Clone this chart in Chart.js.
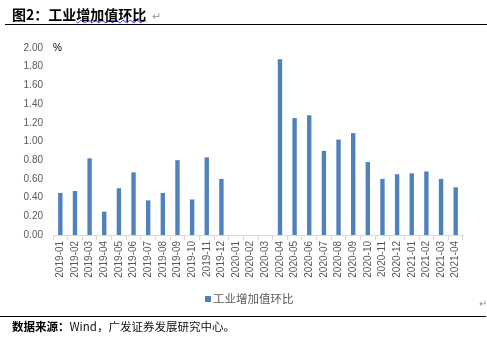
<!DOCTYPE html>
<html>
<head>
<meta charset="utf-8">
<script src="https://cdn.jsdelivr.net/npm/chart.js@4"></script>
<style>
  html, body { margin: 0; padding: 0; background: #fff; }
  #wrap { position: relative; width: 487px; height: 342px; overflow: hidden; font-family: "Noto Sans CJK SC", "Liberation Sans", sans-serif; }
  #chartBox { position: absolute; left: 0; top: 0; width: 487px; height: 342px; }
  .title { position: absolute; left: 12px; top: 4px; font-size: 14px; font-weight: bold; color: #000; line-height: 20px; white-space: nowrap; }
  .title .wavy { text-decoration: underline wavy #3030ff; text-decoration-thickness: 1px; text-underline-offset: -1px; }
  .mark { color: #a0a0a0; font-weight: normal; font-size: 11px; margin-left: 6px; }
  .rule { position: absolute; height: 0; border-top: 1.5px solid #000; }
  .unit { position: absolute; left: 53px; top: 42px; font-family: "Liberation Sans", sans-serif; font-size: 10px; color: #000; }
  .legend { position: absolute; left: 205px; top: 290px; font-size: 11.5px; color: #595959; line-height: 16px; white-space: nowrap; }
  .legend i { display: inline-block; width: 6px; height: 6px; background: #4F81BD; margin-right: 2px; vertical-align: 1px; }
  .source { position: absolute; left: 12px; top: 318px; font-size: 11.5px; color: #111; line-height: 17px; white-space: nowrap; }
  .source b { color: #000; }
  .pmark { position: absolute; left: 479px; top: 295px; font-size: 10px; color: #909090; }
</style>
</head>
<body>
<div id="wrap">
  <div id="chartBox"><canvas id="ipChart" width="487" height="342"></canvas></div>
  <div class="title">图2：工业<span class="wavy">增加值环比</span><span class="mark">↵</span></div>
  <div class="rule" style="left:5px; top:24px; width:482px;"></div>
  <div class="unit">%</div>
  <div class="legend"><i></i>工业增加值环比</div>
  <div class="pmark">↵</div>
  <div class="rule" style="left:0; top:316px; width:486px;"></div>
  <div class="source"><b>数据来源：</b>Wind，广发证券发展研究中心。</div>
</div>

<script>
// 月份
const months = [
  "2019-01", "2019-02", "2019-03", "2019-04", "2019-05", "2019-06", "2019-07",
  "2019-08", "2019-09", "2019-10", "2019-11", "2019-12", "2020-01", "2020-02",
  "2020-03", "2020-04", "2020-05", "2020-06", "2020-07", "2020-08", "2020-09",
  "2020-10", "2020-11", "2020-12", "2021-01", "2021-02", "2021-03", "2021-04"
];

// 工业增加值环比（%），2020年1-3月缺值
const ipMoM = [
  0.45, 0.47, 0.82, 0.25, 0.50, 0.67, 0.37,
  0.45, 0.80, 0.38, 0.83, 0.60, null, null,
  null, 1.88, 1.25, 1.28, 0.90, 1.02, 1.09,
  0.78, 0.60, 0.65, 0.66, 0.68, 0.60, 0.51
];

const yMin = 0;
const yMax = 2;
const yStep = 0.2;

// x轴标签竖排（自下而上），Chart.js 自带旋转方向相反，这里自己画
const verticalLabels = {
  id: "verticalLabels",
  afterDraw(chart) {
    const ctx = chart.ctx;
    const xScale = chart.scales.x;
    const top = xScale.top + 6;
    ctx.save();
    ctx.fillStyle = "#595959";
    ctx.font = "10px 'Liberation Sans', Arial, sans-serif";
    ctx.textAlign = "right";
    ctx.textBaseline = "middle";
    months.forEach((m, i) => {
      const x = xScale.getPixelForValue(i);
      ctx.save();
      ctx.translate(x, top);
      ctx.rotate(-Math.PI / 2);
      ctx.fillText(m, 0, 0);
      ctx.restore();
    });
    ctx.restore();
  }
};

const ctx = document.getElementById("ipChart").getContext("2d");

new Chart(ctx, {
  type: "bar",
  data: {
    labels: months,
    datasets: [{
      label: "工业增加值环比",
      data: ipMoM,
      backgroundColor: "#4F81BD",
      borderWidth: 0,
      barPercentage: 0.3,
      categoryPercentage: 1
    }]
  },
  options: {
    responsive: false,
    animation: false,
    layout: {
      padding: { top: 48, left: 0, right: 24, bottom: 57 }
    },
    plugins: {
      legend: { display: false },
      tooltip: { enabled: false }
    },
    scales: {
      x: {
        grid: {
          display: true,
          offset: true,
          drawOnChartArea: false,
          drawTicks: true,
          tickLength: 5,
          color: "#d9d9d9"
        },
        border: { display: true, color: "#d9d9d9" },
        ticks: { display: false },
        afterFit(scale) { scale.height = 50; }
      },
      y: {
        min: yMin,
        max: yMax,
        grid: { display: false, drawTicks: false },
        border: { display: false },
        ticks: {
          stepSize: yStep,
          padding: 10,
          color: "#595959",
          font: { family: "'Liberation Sans', Arial, sans-serif", size: 10 },
          callback: (v) => v.toFixed(2)
        },
        afterFit(scale) { scale.width = 53; }
      }
    }
  },
  plugins: [verticalLabels]
});
</script>
</body>
</html>
